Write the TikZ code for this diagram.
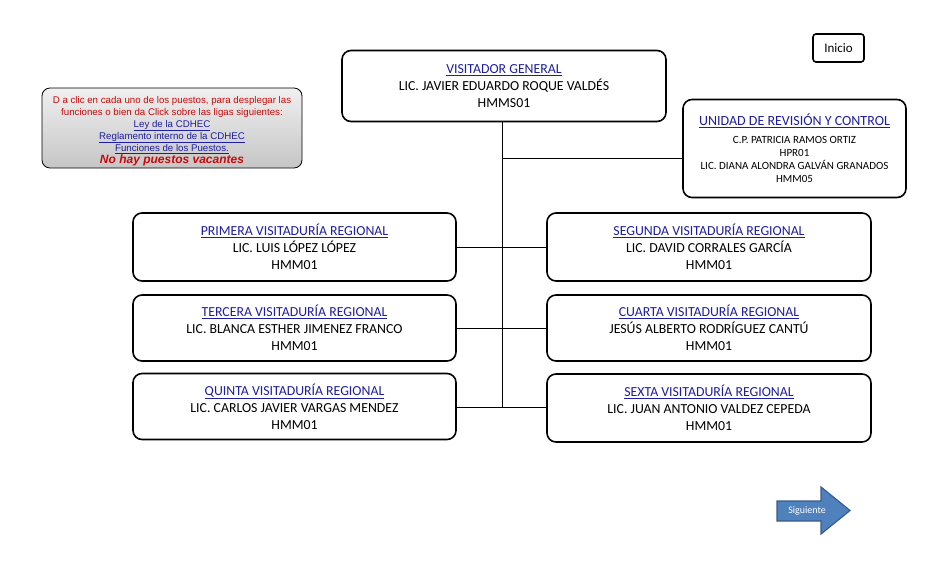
\documentclass[tikz,border=0pt]{standalone}
\usepackage{fontspec}
\setmainfont{Carlito}
\newfontfamily\arialf{Liberation Sans}
\definecolor{linkblue}{RGB}{30,30,160}
\definecolor{infored}{RGB}{200,10,10}
\definecolor{arrowfill}{RGB}{79,129,189}
\definecolor{arrowedge}{RGB}{56,93,138}
\tikzset{
  box/.style={draw=black, line width=1.6pt, rounded corners=9pt, fill=white, align=center,
    font=\fontsize{13.8}{17}\selectfont, inner sep=0pt},
  conn/.style={draw=black, line width=0.8pt},
}
\newcommand{\ttl}[1]{\textcolor{linkblue}{\underline{#1}}}
\begin{document}
\begin{tikzpicture}[x=1pt,y=-1pt]
\useasboundingbox (0,0) rectangle (936,567);
% spine
\coordinate (top) at (502,112);
\coordinate (bot) at (502,407);
\coordinate (jU) at (502,158);
\coordinate (j1) at (502,247);
\coordinate (j2) at (502,328);
\coordinate (j3) at (502,407);
\draw[conn] (top) -- (bot);
% boxes
\node[box, minimum width=324pt, minimum height=71pt] (vg) at (504,86)
  {\ttl{VISITADOR GENERAL}\\LIC. JAVIER EDUARDO ROQUE VALDÉS\\HMMS01};
\node[box, minimum width=223pt, minimum height=98pt, font=\fontsize{11}{13}\selectfont] (ur) at (794.5,148.5)
  {{\fontsize{14}{14}\selectfont\ttl{UNIDAD DE REVISIÓN Y CONTROL}}\\[5pt]C.P. PATRICIA RAMOS ORTIZ\\HPR01\\LIC. DIANA ALONDRA GALVÁN GRANADOS\\HMM05};
\node[box, minimum width=323pt, minimum height=68pt] (p1) at (294.5,247)
  {\ttl{PRIMERA VISITADURÍA REGIONAL}\\LIC. LUIS LÓPEZ LÓPEZ\\HMM01};
\node[box, minimum width=324pt, minimum height=68pt] (p2) at (709,247)
  {\ttl{SEGUNDA VISITADURÍA REGIONAL}\\LIC. DAVID CORRALES GARCÍA\\HMM01};
\node[box, minimum width=323pt, minimum height=66pt] (p3) at (294.5,328)
  {\ttl{TERCERA VISITADURÍA REGIONAL}\\LIC. BLANCA ESTHER JIMENEZ FRANCO\\HMM01};
\node[box, minimum width=324pt, minimum height=66pt] (p4) at (709,328)
  {\ttl{CUARTA VISITADURÍA REGIONAL}\\JESÚS ALBERTO RODRÍGUEZ CANTÚ\\HMM01};
\node[box, minimum width=323pt, minimum height=66pt] (p5) at (294.5,406.5)
  {\ttl{QUINTA VISITADURÍA REGIONAL}\\LIC. CARLOS JAVIER VARGAS MENDEZ\\HMM01};
\node[box, minimum width=324pt, minimum height=68pt] (p6) at (709,408)
  {\ttl{SEXTA VISITADURÍA REGIONAL}\\LIC. JUAN ANTONIO VALDEZ CEPEDA\\HMM01};
% connectors
\draw[conn] (jU) -- (ur.west |- jU);
\draw[conn] (p1.east |- j1) -- (p2.west |- j1);
\draw[conn] (p3.east |- j2) -- (p4.west |- j2);
\draw[conn] (p5.east |- j3) -- (p6.west |- j3);
% info box
\node[draw=black, line width=0.8pt, rounded corners=8pt, top color=gray!12, bottom color=gray!45,
  minimum width=260pt, minimum height=80pt, inner sep=0pt] (info) at (172,128) {};
\node[align=center, inner sep=0pt, font=\arialf\fontsize{9.7}{12}\selectfont] (infotext) at (172,131)
  {\textcolor{infored}{D a clic en cada uno de los puestos, para desplegar las}\\
   \textcolor{infored}{funciones o bien da Click sobre las ligas siguientes:}\\
   \textcolor{linkblue}{\underline{Ley de la CDHEC}}\\
   \textcolor{linkblue}{\underline{Reglamento interno de la CDHEC}}\\
   \textcolor{linkblue}{\underline{Funciones de los Puestos.}}\\
   \textcolor{infored}{\fontsize{12}{13}\selectfont\bfseries\itshape No hay puestos vacantes}};
% inicio
\node[draw=black, line width=1.6pt, rounded corners=3pt, minimum width=51pt, minimum height=28pt,
  inner sep=0pt, font=\fontsize{13}{14}\selectfont] (ini) at (838.5,48) {Inicio};
% siguiente arrow
\draw[draw=arrowedge, line width=1.2pt, fill=arrowfill]
  (777,501) -- (821,501) -- (821,487) -- (850,510.5) -- (821,534) -- (821,521) -- (777,521) -- cycle;
\node[text=white, font=\fontsize{10}{12}\selectfont, inner sep=0pt] (sig) at (807,510.5) {Siguiente};
\end{tikzpicture}
\end{document}
